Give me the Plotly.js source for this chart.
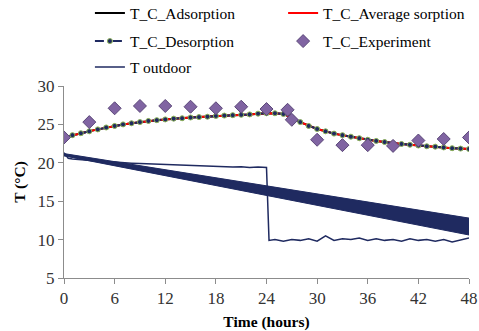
<!DOCTYPE html>
<html>
<head>
<meta charset="utf-8">
<script src="https://cdn.plot.ly/plotly-3.0.1.min.js"></script>
<style>
html,body{margin:0;padding:0;background:#fff;}
#chart{width:479px;height:331px;}
</style>
</head>
<body>
<div id="chart"></div>
<script>
// Model hours (hourly, 0..48)
const modelHours = [0,1,2,3,4,5,6,7,8,9,10,11,12,13,14,15,16,17,18,19,20,21,22,23,24,25,26,27,28,29,30,31,32,33,34,35,36,37,38,39,40,41,42,43,44,45,46,47,48];
const tcAdsorption = [23.3,23.6,23.85,24.1,24.35,24.6,24.8,25.0,25.15,25.3,25.45,25.55,25.65,25.75,25.8,25.9,25.95,26.0,26.1,26.15,26.2,26.25,26.3,26.4,26.45,26.45,26.35,25.9,25.3,24.8,24.4,24.1,23.8,23.6,23.4,23.2,23.0,22.85,22.7,22.55,22.45,22.35,22.25,22.15,22.1,22.0,21.9,21.85,21.8];
const tcAverage = [23.3,23.6,23.85,24.1,24.35,24.6,24.8,25.0,25.15,25.3,25.45,25.55,25.65,25.75,25.8,25.9,25.95,26.0,26.1,26.15,26.2,26.25,26.3,26.4,26.45,26.45,26.35,25.9,25.3,24.8,24.4,24.1,23.8,23.6,23.4,23.2,23.0,22.85,22.7,22.55,22.45,22.35,22.25,22.15,22.1,22.0,21.9,21.85,21.8];
const tcDesorption = [23.3,23.6,23.85,24.1,24.35,24.6,24.8,25.0,25.15,25.3,25.45,25.55,25.65,25.75,25.8,25.9,25.95,26.0,26.1,26.15,26.2,26.25,26.3,26.4,26.45,26.45,26.35,25.9,25.3,24.8,24.4,24.1,23.8,23.6,23.4,23.2,23.0,22.85,22.7,22.55,22.45,22.35,22.25,22.15,22.1,22.0,21.9,21.85,21.8];

// Experiment
const expHours = [0,3,6,9,12,15,18,21,24,26.5,27,30,33,36,39,42,45,48];
const tcExperiment = [23.3,25.3,27.1,27.4,27.4,27.3,27.1,27.3,27.0,26.9,25.6,23.0,22.3,22.3,22.2,22.9,23.1,23.3];

// Outdoor temperature
const outHours = [0,0.5,1,2,3,4,5,6,7,8,9,10,11,12,13,14,15,16,17,18,19,20,21,22,23,24,24.3,25,26,27,28,29,30,31,32,33,34,35,36,37,38,39,40,41,42,43,44,45,46,47,48];
const tOutdoor = [21.3,20.6,20.5,20.4,20.3,20.25,20.15,20.1,20.0,19.95,19.9,19.85,19.8,19.75,19.7,19.7,19.6,19.6,19.55,19.5,19.5,19.45,19.5,19.4,19.45,19.4,9.9,10.0,9.8,10.0,9.9,10.1,9.8,10.5,9.9,10.1,10.0,10.2,9.9,10.1,9.9,10.0,9.8,10.1,9.9,10.0,9.8,10.0,9.7,10.0,10.2];

// Dark outdoor band (start/end)
const bandHours = [0,48];
const bandUpper = [21.2,12.8];
const bandLower = [20.9,10.6];

// Axis ticks
const xTicks = [0,6,12,18,24,30,36,42,48];
const yTicks = [5,10,15,20,25,30];

const navy = '#1F2A60';
const serif = 'Liberation Serif';

const bandX = bandHours.concat(bandHours.slice().reverse());
const bandY = bandUpper.concat(bandLower.slice().reverse());

const traces = [
  {x: bandX, y: bandY, type:'scatter', mode:'lines', fill:'toself', fillcolor:navy,
   line:{color:navy, width:1}, showlegend:false, hoverinfo:'skip'},
  {x: outHours, y: tOutdoor, type:'scatter', mode:'lines', name:'T outdoor',
   line:{color:navy, width:1.5}, legend:'legend5'},
  {x: modelHours, y: tcAdsorption, type:'scatter', mode:'lines', name:'T_C_Adsorption',
   line:{color:'#000000', width:2}, legend:'legend'},
  {x: modelHours, y: tcAverage, type:'scatter', mode:'lines', name:'T_C_Average sorption',
   line:{color:'#FF0000', width:2}, legend:'legend2'},
  {x: modelHours, y: tcDesorption, type:'scatter', mode:'lines+markers', name:'T_C_Desorption',
   line:{color:navy, width:2, dash:'dash'}, marker:{symbol:'circle', size:5, color:navy, line:{color:'#8DB356', width:1}},
   legend:'legend3'},
  {x: expHours, y: tcExperiment, type:'scatter', mode:'markers', name:'T_C_Experiment',
   marker:{symbol:'diamond', size:10, color:'#8064A2', line:{color:'#5A4778', width:1}},
   legend:'legend4'}
];

// legends positioned in container coords (pixel row centres of 331)
function leg(x, py) {
  return {orientation:'v', x:x, y:1 - py/331, xref:'paper', yref:'container',
    xanchor:'left', yanchor:'middle',
    font:{family:serif, size:15.5, color:'#000'}, bgcolor:'rgba(0,0,0,0)', borderwidth:0};
}
const layout = {
  width:479, height:331,
  margin:{l:64, r:10, t:86, b:53},
  paper_bgcolor:'#fff', plot_bgcolor:'#fff',
  font:{family:serif, size:15, color:'#333'},
  xaxis:{range:[0,48], tickvals:xTicks, ticktext:xTicks.map(String), showgrid:false, zeroline:false,
    showline:true, linecolor:'#8c8c8c', linewidth:1, ticks:'outside', ticklen:5, tickcolor:'#8c8c8c',
    tickfont:{family:serif, size:17, color:'#333'},
    title:{text:'<b>Time (hours)</b>', font:{family:serif, size:15.5, color:'#000'}, standoff:8}},
  yaxis:{range:[5,30], tickvals:yTicks, ticktext:yTicks.map(String), showgrid:false, zeroline:false,
    showline:true, linecolor:'#8c8c8c', linewidth:1, ticks:'outside', ticklen:5, tickcolor:'#8c8c8c',
    tickfont:{family:serif, size:17, color:'#333'},
    title:{text:'<b>T (°C)</b>', font:{family:serif, size:15.5, color:'#000'}, standoff:8}},
  legend: leg(0.064, 13.5),
  legend2: leg(0.541, 13.5),
  legend3: leg(0.064, 41.5),
  legend4: leg(0.541, 41.5),
  legend5: leg(0.064, 67.5),
  showlegend:true
};

Plotly.newPlot('chart', traces, layout, {staticPlot:true, displayModeBar:false});
</script>
</body>
</html>
